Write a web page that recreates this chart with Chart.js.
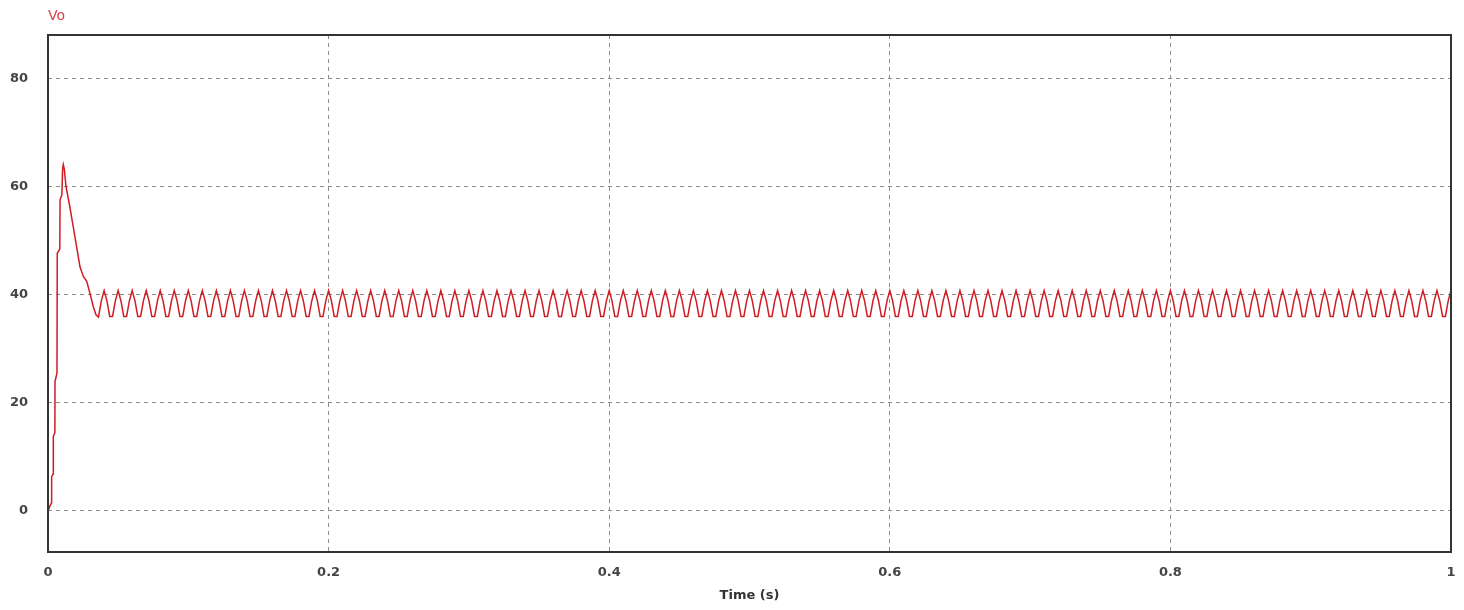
<!DOCTYPE html>
<html>
<head>
<meta charset="utf-8">
<title>Vo</title>
<script src="https://cdn.jsdelivr.net/npm/chart.js@4/dist/chart.umd.min.js"></script>
<style>
  html, body { margin: 0; padding: 0; background: #fff; }
  #chart { display: block; }
</style>
</head>
<body>
<canvas id="chart" width="1464" height="610"></canvas>
<script>
// start up transient
const transientTime = [0, 0.0012, 0.0025, 0.0026, 0.0037, 0.0038, 0.0049, 0.005, 0.0064, 0.0066, 0.0084, 0.0086, 0.0099, 0.0104, 0.0109, 0.0116, 0.0128, 0.0155, 0.018, 0.0204, 0.0228, 0.0252, 0.0276, 0.0299, 0.0323, 0.0342, 0.036, 0.038]
const transientVo = [0, 0.8, 1.5, 6.4, 6.8, 13.8, 14.5, 24, 25.5, 47.7, 48.5, 57.6, 58.5, 63.2, 64.1, 63.3, 60.1, 56.4, 52.6, 48.9, 45.2, 43.4, 42.5, 40.3, 37.8, 36.3, 35.9, 38.9]

// steady state ripple, 100 Hz
const rippleTime = [
  0.04,0.042,0.044,0.046,0.048,0.05,0.052,0.054,0.056,0.058,0.06,0.062,0.064,0.066,0.068,0.07,0.072,0.074,0.076,0.078,0.08,0.082,0.084,0.086,0.088,0.09,0.092,0.094,0.096,0.098,
  0.1,0.102,0.104,0.106,0.108,0.11,0.112,0.114,0.116,0.118,0.12,0.122,0.124,0.126,0.128,0.13,0.132,0.134,0.136,0.138,0.14,0.142,0.144,0.146,0.148,0.15,0.152,0.154,0.156,0.158,0.16,0.162,0.164,0.166,0.168,0.17,0.172,0.174,0.176,0.178,0.18,0.182,0.184,0.186,0.188,0.19,0.192,0.194,0.196,0.198,
  0.2,0.202,0.204,0.206,0.208,0.21,0.212,0.214,0.216,0.218,0.22,0.222,0.224,0.226,0.228,0.23,0.232,0.234,0.236,0.238,0.24,0.242,0.244,0.246,0.248,0.25,0.252,0.254,0.256,0.258,0.26,0.262,0.264,0.266,0.268,0.27,0.272,0.274,0.276,0.278,0.28,0.282,0.284,0.286,0.288,0.29,0.292,0.294,0.296,0.298,
  0.3,0.302,0.304,0.306,0.308,0.31,0.312,0.314,0.316,0.318,0.32,0.322,0.324,0.326,0.328,0.33,0.332,0.334,0.336,0.338,0.34,0.342,0.344,0.346,0.348,0.35,0.352,0.354,0.356,0.358,0.36,0.362,0.364,0.366,0.368,0.37,0.372,0.374,0.376,0.378,0.38,0.382,0.384,0.386,0.388,0.39,0.392,0.394,0.396,0.398,
  0.4,0.402,0.404,0.406,0.408,0.41,0.412,0.414,0.416,0.418,0.42,0.422,0.424,0.426,0.428,0.43,0.432,0.434,0.436,0.438,0.44,0.442,0.444,0.446,0.448,0.45,0.452,0.454,0.456,0.458,0.46,0.462,0.464,0.466,0.468,0.47,0.472,0.474,0.476,0.478,0.48,0.482,0.484,0.486,0.488,0.49,0.492,0.494,0.496,0.498,
  0.5,0.502,0.504,0.506,0.508,0.51,0.512,0.514,0.516,0.518,0.52,0.522,0.524,0.526,0.528,0.53,0.532,0.534,0.536,0.538,0.54,0.542,0.544,0.546,0.548,0.55,0.552,0.554,0.556,0.558,0.56,0.562,0.564,0.566,0.568,0.57,0.572,0.574,0.576,0.578,0.58,0.582,0.584,0.586,0.588,0.59,0.592,0.594,0.596,0.598,
  0.6,0.602,0.604,0.606,0.608,0.61,0.612,0.614,0.616,0.618,0.62,0.622,0.624,0.626,0.628,0.63,0.632,0.634,0.636,0.638,0.64,0.642,0.644,0.646,0.648,0.65,0.652,0.654,0.656,0.658,0.66,0.662,0.664,0.666,0.668,0.67,0.672,0.674,0.676,0.678,0.68,0.682,0.684,0.686,0.688,0.69,0.692,0.694,0.696,0.698,
  0.7,0.702,0.704,0.706,0.708,0.71,0.712,0.714,0.716,0.718,0.72,0.722,0.724,0.726,0.728,0.73,0.732,0.734,0.736,0.738,0.74,0.742,0.744,0.746,0.748,0.75,0.752,0.754,0.756,0.758,0.76,0.762,0.764,0.766,0.768,0.77,0.772,0.774,0.776,0.778,0.78,0.782,0.784,0.786,0.788,0.79,0.792,0.794,0.796,0.798,
  0.8,0.802,0.804,0.806,0.808,0.81,0.812,0.814,0.816,0.818,0.82,0.822,0.824,0.826,0.828,0.83,0.832,0.834,0.836,0.838,0.84,0.842,0.844,0.846,0.848,0.85,0.852,0.854,0.856,0.858,0.86,0.862,0.864,0.866,0.868,0.87,0.872,0.874,0.876,0.878,0.88,0.882,0.884,0.886,0.888,0.89,0.892,0.894,0.896,0.898,
  0.9,0.902,0.904,0.906,0.908,0.91,0.912,0.914,0.916,0.918,0.92,0.922,0.924,0.926,0.928,0.93,0.932,0.934,0.936,0.938,0.94,0.942,0.944,0.946,0.948,0.95,0.952,0.954,0.956,0.958,0.96,0.962,0.964,0.966,0.968,0.97,0.972,0.974,0.976,0.978,0.98,0.982,0.984,0.986,0.988,0.99,0.992,0.994,0.996,0.998,
  1
]
const rippleVo = [
  40.8,38.9,36.0,36.0,38.9,40.8,38.9,36.0,36.0,38.9,40.8,38.9,36.0,36.0,38.9,40.8,38.9,36.0,36.0,38.9,40.8,38.9,36.0,36.0,38.9,40.8,38.9,36.0,36.0,38.9,
  40.8,38.9,36.0,36.0,38.9,40.8,38.9,36.0,36.0,38.9,40.8,38.9,36.0,36.0,38.9,40.8,38.9,36.0,36.0,38.9,40.8,38.9,36.0,36.0,38.9,40.8,38.9,36.0,36.0,38.9,40.8,38.9,36.0,36.0,38.9,40.8,38.9,36.0,36.0,38.9,40.8,38.9,36.0,36.0,38.9,40.8,38.9,36.0,36.0,38.9,
  40.8,38.9,36.0,36.0,38.9,40.8,38.9,36.0,36.0,38.9,40.8,38.9,36.0,36.0,38.9,40.8,38.9,36.0,36.0,38.9,40.8,38.9,36.0,36.0,38.9,40.8,38.9,36.0,36.0,38.9,40.8,38.9,36.0,36.0,38.9,40.8,38.9,36.0,36.0,38.9,40.8,38.9,36.0,36.0,38.9,40.8,38.9,36.0,36.0,38.9,
  40.8,38.9,36.0,36.0,38.9,40.8,38.9,36.0,36.0,38.9,40.8,38.9,36.0,36.0,38.9,40.8,38.9,36.0,36.0,38.9,40.8,38.9,36.0,36.0,38.9,40.8,38.9,36.0,36.0,38.9,40.8,38.9,36.0,36.0,38.9,40.8,38.9,36.0,36.0,38.9,40.8,38.9,36.0,36.0,38.9,40.8,38.9,36.0,36.0,38.9,
  40.8,38.9,36.0,36.0,38.9,40.8,38.9,36.0,36.0,38.9,40.8,38.9,36.0,36.0,38.9,40.8,38.9,36.0,36.0,38.9,40.8,38.9,36.0,36.0,38.9,40.8,38.9,36.0,36.0,38.9,40.8,38.9,36.0,36.0,38.9,40.8,38.9,36.0,36.0,38.9,40.8,38.9,36.0,36.0,38.9,40.8,38.9,36.0,36.0,38.9,
  40.8,38.9,36.0,36.0,38.9,40.8,38.9,36.0,36.0,38.9,40.8,38.9,36.0,36.0,38.9,40.8,38.9,36.0,36.0,38.9,40.8,38.9,36.0,36.0,38.9,40.8,38.9,36.0,36.0,38.9,40.8,38.9,36.0,36.0,38.9,40.8,38.9,36.0,36.0,38.9,40.8,38.9,36.0,36.0,38.9,40.8,38.9,36.0,36.0,38.9,
  40.8,38.9,36.0,36.0,38.9,40.8,38.9,36.0,36.0,38.9,40.8,38.9,36.0,36.0,38.9,40.8,38.9,36.0,36.0,38.9,40.8,38.9,36.0,36.0,38.9,40.8,38.9,36.0,36.0,38.9,40.8,38.9,36.0,36.0,38.9,40.8,38.9,36.0,36.0,38.9,40.8,38.9,36.0,36.0,38.9,40.8,38.9,36.0,36.0,38.9,
  40.8,38.9,36.0,36.0,38.9,40.8,38.9,36.0,36.0,38.9,40.8,38.9,36.0,36.0,38.9,40.8,38.9,36.0,36.0,38.9,40.8,38.9,36.0,36.0,38.9,40.8,38.9,36.0,36.0,38.9,40.8,38.9,36.0,36.0,38.9,40.8,38.9,36.0,36.0,38.9,40.8,38.9,36.0,36.0,38.9,40.8,38.9,36.0,36.0,38.9,
  40.8,38.9,36.0,36.0,38.9,40.8,38.9,36.0,36.0,38.9,40.8,38.9,36.0,36.0,38.9,40.8,38.9,36.0,36.0,38.9,40.8,38.9,36.0,36.0,38.9,40.8,38.9,36.0,36.0,38.9,40.8,38.9,36.0,36.0,38.9,40.8,38.9,36.0,36.0,38.9,40.8,38.9,36.0,36.0,38.9,40.8,38.9,36.0,36.0,38.9,
  40.8,38.9,36.0,36.0,38.9,40.8,38.9,36.0,36.0,38.9,40.8,38.9,36.0,36.0,38.9,40.8,38.9,36.0,36.0,38.9,40.8,38.9,36.0,36.0,38.9,40.8,38.9,36.0,36.0,38.9,40.8,38.9,36.0,36.0,38.9,40.8,38.9,36.0,36.0,38.9,40.8,38.9,36.0,36.0,38.9,40.8,38.9,36.0,36.0,38.9,
  40.8
]

// axes
const xTicks = [0, 0.2, 0.4, 0.6, 0.8, 1]
const yTicks = [0, 20, 40, 60, 80]
const seriesName = 'Vo'
const xTitle = 'Time (s)'

const time = transientTime.concat(rippleTime)
const vo = transientVo.concat(rippleVo)

const FONT = 'DejaVu Sans'

// frame round the plot + the "Vo" label
const framePlugin = {
  id: 'frame',
  afterDraw(chart){
    const {ctx, chartArea} = chart
    ctx.save()
    ctx.strokeStyle = '#333'
    ctx.lineWidth = 2
    ctx.strokeRect(chartArea.left, chartArea.top, chartArea.right - chartArea.left, chartArea.bottom - chartArea.top)
    ctx.fillStyle = '#d8404a'
    ctx.font = '14px "' + FONT + '"'
    ctx.textBaseline = 'alphabetic'
    ctx.textAlign = 'left'
    ctx.fillText(seriesName, chartArea.left, chartArea.top - 15)
    ctx.restore()
  }
}

const chartCanv = document.querySelector('#chart')
const chartX = new Chart(chartCanv, {
  type: 'line',
  data: {
    labels: time,
    datasets: [{
      label: seriesName,
      data: vo,
      borderColor: '#d01c24',
      borderWidth: 1.5,
      pointRadius: 0,
      tension: 0,
      fill: false
    }]
  },
  options: {
    responsive: false,
    animation: false,
    layout: { padding: { top: 35, right: 13, left: 0, bottom: 0 } },
    plugins: {
      legend: { display: false },
      tooltip: { enabled: false }
    },
    scales: {
      x: {
        type: 'linear',
        min: 0,
        max: 1,
        afterFit(scale){
          scale.height = 58
          // the edge labels should not push the plot inwards
          scale.paddingLeft = 0
          scale.paddingRight = 0
        },
        afterBuildTicks(scale){ scale.ticks = xTicks.map(v => ({ value: v })) },
        ticks: {
          padding: 13,
          color: '#444',
          font: { family: FONT, size: 13, weight: 'bold' },
          maxRotation: 0,
          callback: v => String(+v.toFixed(1))
        },
        grid: { color: '#8a8a8a', lineWidth: 1, drawTicks: false },
        border: { display: false, dash: [4, 4] },
        title: {
          display: true,
          text: xTitle,
          color: '#333',
          font: { family: FONT, size: 13, weight: 'bold' },
          padding: { top: 0, bottom: 7 }
        }
      },
      y: {
        min: -7.6,
        max: 88.1,
        afterFit(scale){ scale.width = 48 },
        afterBuildTicks(scale){ scale.ticks = yTicks.map(v => ({ value: v })) },
        ticks: {
          padding: 20,
          color: '#444',
          font: { family: FONT, size: 13, weight: 'bold' }
        },
        grid: { color: '#8a8a8a', lineWidth: 1, drawTicks: false },
        border: { display: false, dash: [4, 4] }
      }
    }
  },
  plugins: [framePlugin]
})
</script>
</body>
</html>
